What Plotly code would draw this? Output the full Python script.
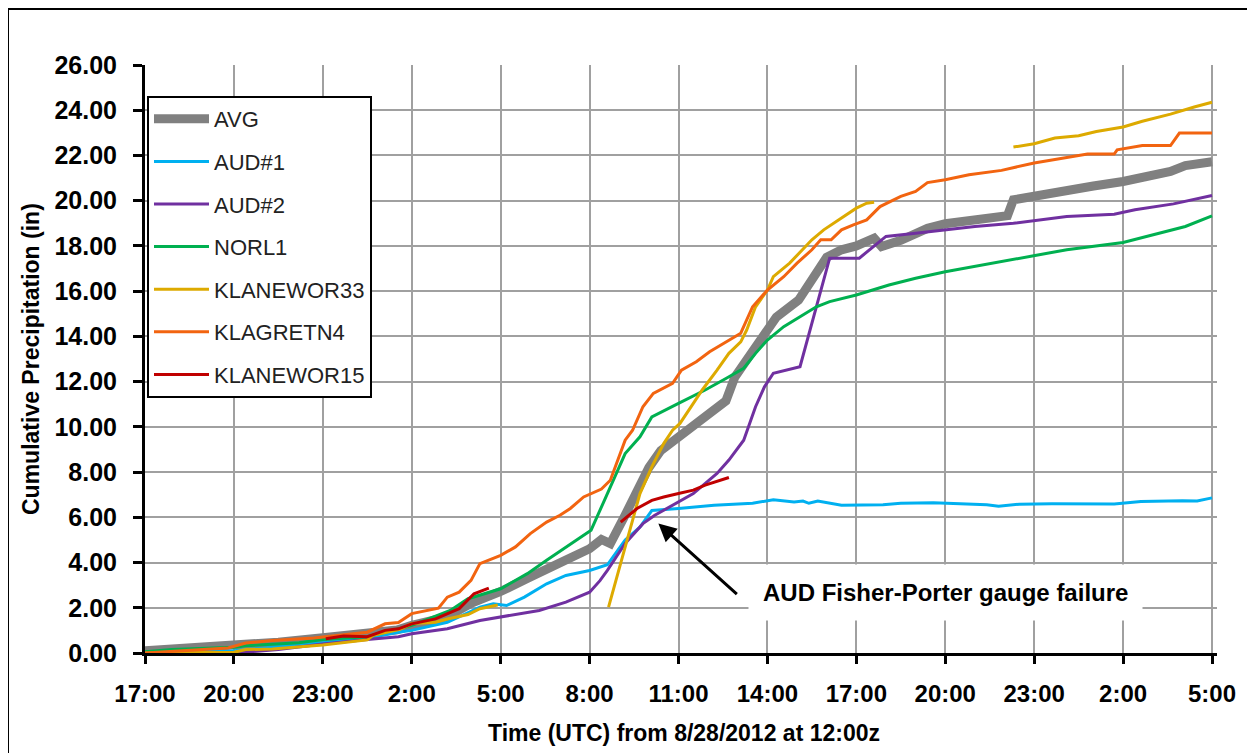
import plotly.graph_objects as go

# ---------------- data (x = hours after 17:00 UTC 8/28/2012) ----------------
tick_hours = [0, 3, 6, 9, 12, 15, 18, 21, 24, 27, 30, 33, 36]
tick_labels = ["17:00", "20:00", "23:00", "2:00", "5:00", "8:00", "11:00",
               "14:00", "17:00", "20:00", "23:00", "2:00", "5:00"]
y_ticks = [0, 2, 4, 6, 8, 10, 12, 14, 16, 18, 20, 22, 24, 26]

avg_x = [0, 1.5, 3, 4.5, 6, 7.5, 8.5, 9, 10.2, 11, 12, 12.9, 13.55, 14.2, 15, 15.4, 15.7,
         16.2, 17.0, 17.4, 18, 18.8, 19.6, 19.9, 20.4, 21.0, 21.3, 22.05, 22.5, 23.0, 23.5,
         24.0, 24.6, 24.85, 25.5, 26.4, 27, 28, 29.1, 29.3, 30, 31.1, 32, 33, 34, 34.6, 35.1, 36]
avg_y = [0.10, 0.22, 0.30, 0.48, 0.68, 0.85, 1.02, 1.22, 1.6, 2.2, 2.72, 3.3, 3.73, 4.17, 4.61,
         5.02, 4.84, 6.1, 8.2, 8.95, 9.55, 10.3, 11.15, 12.2, 13.2, 14.35, 14.85, 15.6, 16.5,
         17.5, 17.83, 18.0, 18.34, 17.97, 18.25, 18.78, 18.98, 19.12, 19.34, 20.04, 20.22,
         20.48, 20.65, 20.85, 21.1, 21.29, 21.55, 21.72]

aud1_x = [0, 3, 6, 7.5, 8.55, 9, 10.2, 11.3, 11.75, 12.2, 12.8, 13.55, 14.2, 15, 15.6, 16.2,
          16.7, 17.1, 18, 19.2, 20.5, 21.2, 21.9, 22.2, 22.4, 22.7, 23.5, 24.9, 25.5, 26.6,
          28.4, 28.8, 29.5, 30.6, 32.7, 33.6, 35.0, 35.5, 36]
aud1_y = [0.0, 0.1, 0.45, 0.65, 0.92, 1.0, 1.36, 2.03, 2.18, 2.1, 2.47, 3.06, 3.43, 3.65, 3.9,
          5.0, 5.57, 6.3, 6.39, 6.53, 6.62, 6.78, 6.68, 6.72, 6.62, 6.72, 6.53, 6.56, 6.62, 6.64,
          6.56, 6.49, 6.58, 6.6, 6.59, 6.7, 6.73, 6.72, 6.86]

aud2_x = [0, 3, 4.5, 6, 7.5, 8.55, 9, 10.2, 11.3, 12, 13.3, 14.2, 15, 15.35, 15.6, 16.2, 16.8,
          17.2, 17.7, 18.5, 19.3, 19.7, 20.2, 20.6, 20.9, 21.2, 22.1, 23.1, 24.1, 25.0, 26.0,
          27, 28, 29.3, 31.1, 32.7, 33.4, 34.7, 36]
aud2_y = [0.0, 0.0, 0.15, 0.4, 0.6, 0.72, 0.85, 1.07, 1.44, 1.59, 1.88, 2.25, 2.69, 3.2, 3.65,
          4.84, 5.72, 6.09, 6.46, 7.05, 7.94, 8.53, 9.41, 10.89, 11.77, 12.37, 12.66, 17.46,
          17.46, 18.42, 18.56, 18.71, 18.86, 19.0, 19.3, 19.4, 19.6, 19.86, 20.23]

norl1_x = [0, 0.9, 3, 3.4, 5.2, 6, 7.5, 9, 10.3, 10.9, 12, 12.9, 13.55, 14.2, 15.05, 15.5, 15.9,
           16.2, 16.7, 17.1, 18, 18.9, 19.6, 20.2, 20.6, 21, 21.55, 22.1, 22.65, 23.1, 24, 25.1,
           26.0, 27, 28.9, 30, 31.1, 33, 34, 35.1, 36]
norl1_y = [0.05, 0.15, 0.25, 0.32, 0.45, 0.6, 0.72, 1.22, 1.88, 2.4, 2.84, 3.51, 4.1, 4.69,
           5.43, 6.75, 7.94, 8.82, 9.56, 10.44, 11.04, 11.63, 12.14, 12.59, 13.25, 13.84, 14.43,
           14.87, 15.31, 15.54, 15.83, 16.27, 16.57, 16.86, 17.31, 17.6, 17.83, 18.15, 18.49,
           18.86, 19.33]

k33_x = [0, 3, 3.4, 4.3, 6, 7.5, 7.7, 8.6, 9, 9.8, 10.2, 10.9, 11.3, 11.75, 11.9, None,
         15.64, 16.2, 16.7, 17.1, 17.5, 17.8, 18.05, 18.5, 18.8, 19.3, 19.7, 20.1, 20.3, 20.6,
         21.0, 21.2, 21.75, 22.5, 22.9, 23.5, 24.0, 24.35, 24.6, None,
         29.3, 30, 30.7, 31.5, 32.1, 33, 33.65, 34.6, 35.4, 36]
k33_y = [0.0, 0.03, 0.15, 0.18, 0.35, 0.58, 0.78, 1.05, 1.3, 1.36, 1.5, 1.7, 1.96, 2.09, 2.12, None,
         2.03, 4.69, 7.05, 8.23, 9.26, 9.85, 10.15, 11.04, 11.63, 12.51, 13.25, 13.76, 14.28,
         15.31, 16.05, 16.64, 17.24, 18.27, 18.71, 19.23, 19.67, 19.89, 19.93, None,
         22.37, 22.52, 22.77, 22.87, 23.06, 23.26, 23.51, 23.83, 24.14, 24.35]

kgr4_x = [0, 2.8, 3.4, 4.3, 5.7, 6.6, 7.5, 8.1, 8.55, 9, 9.9, 10.2, 10.6, 11, 11.3, 12, 12.5,
          13.0, 13.55, 14.0, 14.35, 14.8, 15.0, 15.4, 15.7, 16.0, 16.2, 16.45, 16.8, 17.15,
          17.5, 17.8, 18.1, 18.6, 19.05, 19.6, 20.1, 20.5, 21, 21.55, 22.0, 22.5, 22.8, 23.15,
          23.5, 23.9, 24.35, 24.8, 25.5, 26.0, 26.4, 27, 27.8, 28.9, 30, 31.8, 32.7, 32.8,
          33.65, 34.6, 34.9, 36]
kgr4_y = [0.0, 0.22, 0.44, 0.55, 0.66, 0.8, 0.92, 1.29, 1.35, 1.74, 1.98, 2.47, 2.69, 3.21,
          3.95, 4.32, 4.69, 5.28, 5.79, 6.09, 6.39, 6.9, 7.02, 7.25, 7.64, 8.67, 9.41, 9.85,
          10.89, 11.48, 11.7, 11.92, 12.51, 12.88, 13.32, 13.76, 14.14, 15.31, 16.05, 16.64,
          17.24, 17.83, 18.27, 18.27, 18.71, 18.93, 19.15, 19.74, 20.19, 20.41, 20.8, 20.93,
          21.15, 21.34, 21.67, 22.06, 22.06, 22.25, 22.44, 22.44, 22.99, 22.99]

k15_x = [6.1, 6.7, 7.5, 8.1, 8.55, 9, 9.8, 10.2, 10.6, 11.1, 11.6, None,
         16.05, 16.6, 17.1, 17.5, 18, 18.5, 18.9, 19.4, 19.7]
k15_y = [0.63, 0.75, 0.72, 1.0, 1.07, 1.29, 1.51, 1.74, 1.96, 2.62, 2.87, None,
         5.79, 6.39, 6.75, 6.9, 7.05, 7.2, 7.42, 7.64, 7.76]

series = [
    ("AVG", avg_x, avg_y, "#808080", 9),
    ("AUD#1", aud1_x, aud1_y, "#00B0F0", 3),
    ("AUD#2", aud2_x, aud2_y, "#7030A0", 3),
    ("NORL1", norl1_x, norl1_y, "#00B050", 3),
    ("KLANEWOR33", k33_x, k33_y, "#DDAA00", 3),
    ("KLAGRETN4", kgr4_x, kgr4_y, "#F26410", 3),
    ("KLANEWOR15", k15_x, k15_y, "#C00000", 3),
]

annot_text = "AUD Fisher-Porter gauge failure"
failure_point = (17.32, 5.73)
annot_center = (27.0, 2.67)

# ---------------- figure ----------------
OFF = 8                      # browser body margin
W, H = 1255 - OFF, 753 - OFF
ML = 145 - OFF               # plot-area left edge (page px 145)
MT = 65 - OFF                # plot-area top (page px 65)
MR = W - (1217 - OFF)        # plot-area right (page px 1217)
MB = H - (653 - OFF)         # plot-area bottom (page px 653)
PW = W - ML - MR
PH = H - MT - MB
XMAX = 36 * PW / (1212 - 145)

FONT = "Liberation Sans, Arial, sans-serif"


def px_x(p):
    return (p - OFF - ML) / PW


def px_y(p):
    return (H - MB - (p - OFF)) / PH


fig = go.Figure()
for i, (name, xs, ys, col, wd) in enumerate(series):
    fig.add_trace(go.Scatter(
        x=xs, y=ys, name=name, mode="lines", connectgaps=False,
        legendgroup="g%d" % i,
        line=dict(color=col, width=wd, shape="linear"),
    ))

fig.update_layout(
    width=W, height=H, autosize=False,
    margin=dict(l=ML, r=MR, t=MT, b=MB, pad=0),
    paper_bgcolor="white", plot_bgcolor="white",
    font=dict(family=FONT, color="black"),
    showlegend=True,
    legend=dict(
        x=px_x(147), y=px_y(96), xanchor="left", yanchor="top",
        bgcolor="white", bordercolor="black", borderwidth=2,
        font=dict(size=22, family=FONT, color="#222222"),
        tracegroupgap=11, itemwidth=55,
    ),
    xaxis=dict(
        range=[0, XMAX], tickmode="array", tickvals=tick_hours, ticktext=tick_labels,
        showgrid=True, gridcolor="#A0A0A0", gridwidth=1.5,
        showline=True, linecolor="black", linewidth=3,
        ticks="outside", ticklen=8, tickwidth=3, tickcolor="black",
        tickfont=dict(size=24, family=FONT, color="black", weight="bold"),
        ticklabelstandoff=9, zeroline=False,
    ),
    yaxis=dict(
        range=[0, 26], tickmode="array", tickvals=y_ticks,
        ticktext=["%.2f" % v for v in y_ticks],
        showgrid=True, gridcolor="#A0A0A0", gridwidth=1.5,
        showline=True, linecolor="black", linewidth=3,
        ticks="outside", ticklen=9, tickwidth=3, tickcolor="black",
        tickfont=dict(size=25, family=FONT, color="black", weight="bold"),
        ticklabelstandoff=11, zeroline=False,
    ),
)

# axis titles
fig.add_annotation(
    text="Time (UTC) from 8/28/2012 at 12:00z", xref="paper", yref="paper",
    x=px_x(684), y=px_y(733), xanchor="center", yanchor="middle", showarrow=False,
    font=dict(size=23, family=FONT, color="black", weight="bold"),
)
fig.add_annotation(
    text="Cumulative Precipitation (in)", xref="paper", yref="paper",
    x=px_x(31), y=px_y(359), xanchor="center", yanchor="middle", showarrow=False,
    textangle=-90,
    font=dict(size=23, family=FONT, color="black", weight="bold"),
)

# arrow to the failure point
fig.add_annotation(
    x=failure_point[0], y=failure_point[1], xref="x", yref="y",
    text="", showarrow=True, ax=80, ay=72, axref="pixel", ayref="pixel",
    arrowhead=2, arrowsize=1.2, arrowwidth=3, arrowcolor="black",
)
# failure label with white box
fig.add_annotation(
    x=annot_center[0], y=annot_center[1], xref="x", yref="y",
    text=annot_text, showarrow=False, xanchor="center", yanchor="middle",
    bgcolor="white", borderpad=14,
    font=dict(size=24, family=FONT, color="black", weight="bold"),
)

# outer chart frame
fig.add_shape(
    type="rect", xref="paper", yref="paper",
    x0=px_x(8), x1=px_x(1248), y0=px_y(800), y1=px_y(9),
    line=dict(color="black", width=2), fillcolor="rgba(0,0,0,0)", layer="above",
)

fig.write_html("out.html")
